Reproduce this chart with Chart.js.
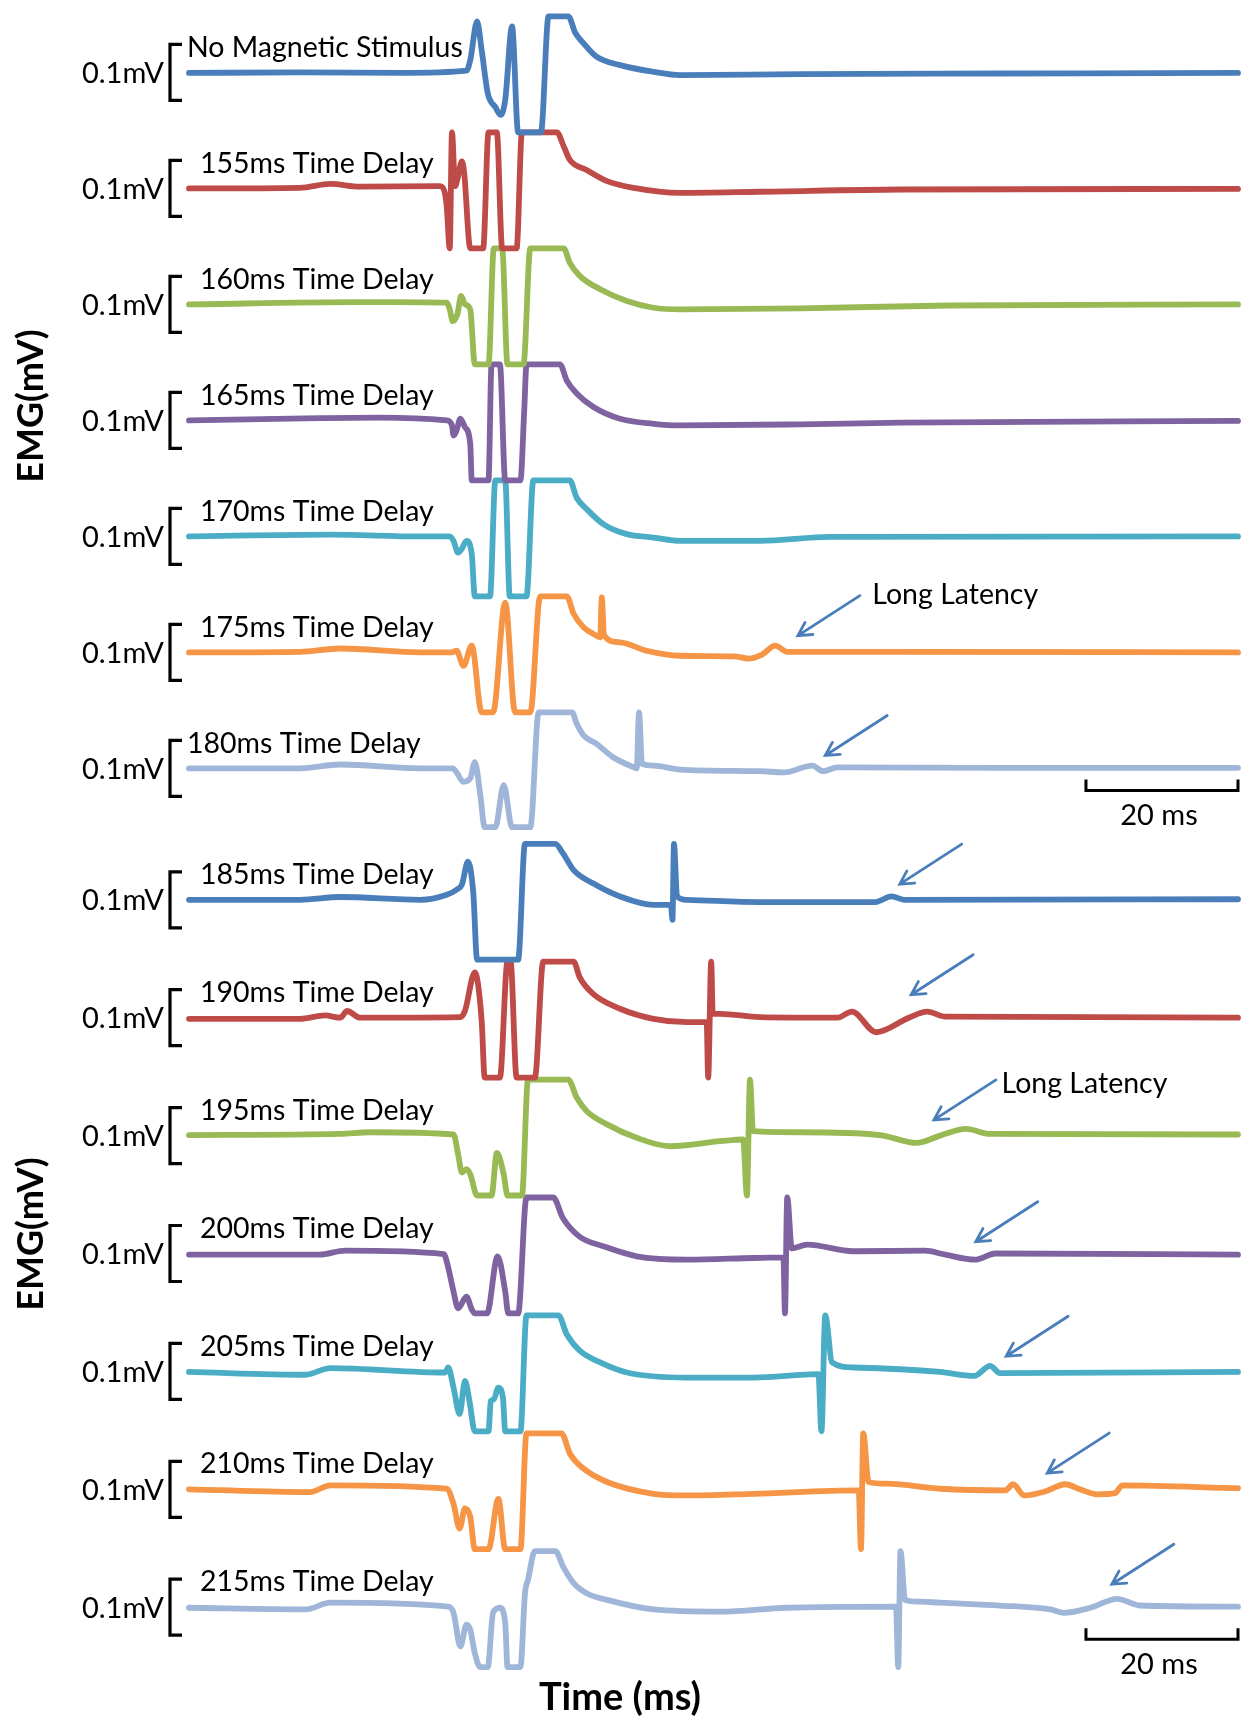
<!DOCTYPE html>
<html>
<head>
<meta charset="utf-8">
<script src="https://cdn.jsdelivr.net/npm/chart.js@4.4.1/dist/chart.umd.min.js"></script>
<style>
  html, body { margin: 0; padding: 0; background: #ffffff; }
  #wrap { position: relative; width: 1241px; height: 1721px; }
  canvas { display: block; }
</style>
</head>
<body>
<div id="wrap"><canvas id="emg" width="1241" height="1721"></canvas></div>
<script>
// ---- trace names (top to bottom) ----
const traceNames = [
  'No Magnetic Stimulus', '155ms Time Delay', '160ms Time Delay', '165ms Time Delay',
  '170ms Time Delay', '175ms Time Delay', '180ms Time Delay',
  '185ms Time Delay', '190ms Time Delay', '195ms Time Delay', '200ms Time Delay',
  '205ms Time Delay', '210ms Time Delay', '215ms Time Delay'
];

// ---- recorded EMG: time (ms) and amplitude (mV) per trace ----
const ms_none = [0, 14.6, 27.8, 36.5, 37.0, 37.9, 38.5, 39.3, 40.3, 41.0, 41.6, 42.5, 43.3, 46.3, 47.3, 49.9, 50.8, 51.9, 53.6, 56.7, 61.1, 64.6, 80.4, 106.7, 138];
const mv_none = [-0.001, 0.000, -0.001, 0.003, 0.022, 0.091, 0.040, -0.037, -0.062, -0.076, -0.049, 0.082, -0.107, -0.107, 0.100, 0.100, 0.071, 0.052, 0.028, 0.013, 0.001, -0.005, -0.003, -0.002, -0.001];

const ms_155 = [0, 14.6, 18.6, 22.5, 33.0, 33.6, 33.9, 34.3, 34.6, 35.0, 35.3, 35.9, 36.2, 37.0, 38.7, 39.4, 40.5, 41.2, 43.1, 43.8, 48.4, 49.3, 50.1, 52.3, 55.0, 58.5, 64.6, 75.1, 93.6, 138];
const mv_155 = [0.000, 0.001, 0.008, 0.003, 0.004, -0.005, -0.032, -0.107, 0.100, 0.004, 0.016, 0.048, 0.028, -0.107, -0.107, 0.100, 0.100, -0.107, -0.107, 0.100, 0.100, 0.075, 0.051, 0.033, 0.013, 0.001, -0.008, -0.006, -0.002, -0.001];

const ms_160 = [0, 22.1, 26.8, 33.9, 34.3, 34.7, 35.3, 35.8, 36.3, 37.0, 37.6, 39.4, 40.1, 41.2, 41.9, 44.0, 44.9, 49.3, 50.1, 51.4, 54.1, 57.6, 61.1, 64.6, 80.4, 100.1, 138];
const mv_160 = [0, 0.004, 0.004, 0.003, -0.009, -0.030, -0.018, 0.015, 0, -0.009, -0.107, -0.107, 0.100, 0.100, -0.107, -0.107, 0.100, 0.100, 0.074, 0.051, 0.027, 0.006, -0.006, -0.009, -0.007, -0.002, 0];

const ms_165 = [0, 17.2, 25.1, 33.9, 34.6, 34.8, 35.2, 35.7, 36.3, 37.0, 37.2, 39.4, 39.8, 40.9, 41.6, 43.6, 44.1, 44.4, 48.8, 49.7, 51.0, 53.2, 56.7, 61.1, 64.6, 80.4, 93.6, 138];
const mv_165 = [0, 0.004, 0.005, 0, -0.009, -0.027, -0.018, 0.003, -0.012, -0.042, -0.107, -0.107, 0.100, 0.100, -0.107, -0.107, 0.018, 0.100, 0.100, 0.071, 0.048, 0.024, 0.003, -0.006, -0.009, -0.007, -0.004, -0.001];

const ms_170 = [0, 18.6, 30.4, 34.3, 34.8, 35.4, 35.9, 36.5, 37.2, 37.6, 39.6, 40.3, 41.6, 42.2, 44.4, 45.3, 50.1, 51.0, 52.3, 54.5, 57.6, 61.1, 64.6, 75.1, 84.3, 138];
const mv_170 = [0, 0.003, 0, 0, -0.008, -0.029, -0.022, -0.008, -0.032, -0.107, -0.107, 0.100, 0.100, -0.107, -0.107, 0.100, 0.100, 0.069, 0.049, 0.022, 0.004, -0.002, -0.008, -0.008, -0.001, 0];

const ms_175 = [0, 14.6, 19.9, 30.4, 34.6, 35.2, 36.1, 37.2, 38.5, 40.0, 41.6, 42.9, 44.9, 46.2, 49.7, 50.6, 51.9, 53.6, 54.1, 54.3, 54.6, 56.7, 60.2, 64.6, 71.7, 73.6, 75.4, 77.1, 78.7, 93.6, 138];
const mv_175 = [0, 0.001, 0.007, 0, 0, 0.003, -0.024, 0.012, -0.107, -0.107, 0.089, -0.107, -0.107, 0.100, 0.100, 0.069, 0.045, 0.030, 0.027, 0.098, 0.030, 0.018, 0.003, -0.006, -0.007, -0.011, -0.004, 0.012, 0.001, 0.001, 0];

const ms_180 = [0, 14.6, 19.9, 30.4, 34.7, 35.2, 36.1, 37.0, 37.6, 38.3, 38.9, 40.3, 41.4, 42.5, 44.9, 46.0, 50.4, 51.0, 51.9, 53.6, 55.8, 58.5, 58.9, 59.2, 59.6, 61.1, 64.6, 75.1, 78.3, 82.0, 83.4, 85.3, 106.7, 138];
const mv_180 = [0, 0, 0.007, 0, 0, -0.007, -0.024, -0.018, 0.011, -0.045, -0.105, -0.105, -0.030, -0.105, -0.105, 0.100, 0.100, 0.080, 0.059, 0.044, 0.020, 0.002, 0, 0.100, 0.008, 0.005, -0.002, -0.005, -0.007, 0.005, -0.005, 0.002, 0.001, 0.001];

const ms_185 = [0, 14.6, 19.9, 30.4, 33.9, 35.2, 35.9, 36.7, 37.4, 37.9, 43.3, 44.2, 48.2, 49.2, 50.6, 53.2, 56.7, 61.1, 63.4, 63.6, 63.8, 64.2, 65.5, 75.1, 90.3, 92.4, 94.2, 138];
const mv_185 = [0, 0, 0.005, 0, 0.009, 0.018, 0.027, 0.068, 0.012, -0.107, -0.107, 0.100, 0.100, 0.083, 0.053, 0.029, 0.006, -0.009, -0.009, -0.036, 0.100, 0.006, 0, -0.004, -0.004, 0.006, 0, 0.001];

const ms_190 = [0, 14.6, 17.9, 19.9, 20.8, 22.5, 35.7, 36.3, 37.6, 38.5, 38.9, 40.9, 41.9, 42.3, 43.1, 45.5, 46.6, 50.6, 51.4, 53.2, 56.7, 61.1, 65.5, 68.1, 68.3, 68.7, 68.9, 69.9, 75.1, 85.3, 87.2, 90.4, 94.7, 97.1, 99.5, 138];
const mv_190 = [-0.002, -0.002, 0.004, 0, 0.012, 0, 0.001, 0.012, 0.081, -0.005, -0.107, -0.107, 0.100, 0.100, -0.107, -0.107, 0.100, 0.100, 0.072, 0.042, 0.016, -0.002, -0.008, -0.008, -0.107, 0.100, 0.007, 0.007, 0.001, 0, 0.011, -0.026, 0, 0.011, 0.002, 0];

const ms_195 = [0, 19.9, 23.8, 34.8, 35.4, 35.9, 36.5, 37.0, 37.9, 39.8, 40.5, 41.4, 41.9, 43.8, 44.6, 49.9, 51.0, 52.3, 55.0, 58.9, 63.3, 69.9, 72.9, 73.4, 73.8, 74.2, 80.4, 90.9, 95.7, 98.8, 102.2, 105.4, 138];
const mv_195 = [0.001, 0.003, 0.006, 0.002, -0.033, -0.066, -0.060, -0.069, -0.107, -0.107, -0.031, -0.069, -0.107, -0.107, 0.100, 0.100, 0.068, 0.044, 0.020, -0.004, -0.019, -0.010, -0.007, -0.107, 0.100, 0.008, 0.006, 0.001, -0.013, 0, 0.012, 0.003, 0.002];

const ms_200 = [0, 17.2, 20.5, 33.5, 33.9, 34.8, 35.4, 36.5, 37.2, 37.6, 39.2, 40.6, 41.6, 42.0, 43.3, 44.4, 47.9, 49.2, 51.4, 54.5, 58.9, 65.5, 74.3, 78.2, 78.4, 78.7, 79.3, 81.3, 87.4, 96.8, 99.5, 103.4, 106.1, 138];
const mv_200 = [-0.002, -0.002, 0.005, -0.001, -0.014, -0.068, -0.098, -0.077, -0.100, -0.107, -0.107, -0.005, -0.068, -0.107, -0.107, 0.100, 0.100, 0.063, 0.030, 0.013, -0.005, -0.011, -0.008, -0.007, -0.107, 0.100, 0.009, 0.016, 0.004, 0.005, -0.002, -0.011, 0, -0.002];

const ms_205 = [0, 15.3, 18.6, 33.7, 34.1, 34.8, 35.6, 36.3, 36.9, 37.6, 39.4, 39.7, 40.1, 40.7, 41.3, 41.6, 43.6, 44.4, 48.6, 49.7, 51.4, 54.1, 57.6, 65.5, 74.3, 82.8, 83.2, 83.7, 84.6, 87.4, 98.8, 103.3, 105.4, 106.7, 138];
const mv_205 = [-0.001, -0.006, 0.006, -0.002, 0.007, -0.029, -0.076, -0.017, -0.053, -0.107, -0.107, -0.053, -0.050, -0.029, -0.047, -0.107, -0.107, 0.100, 0.100, 0.066, 0.037, 0.016, -0.002, -0.011, -0.011, -0.005, -0.107, 0.100, 0.016, 0.007, -0.001, -0.008, 0.010, -0.003, -0.001];

const ms_210 = [0, 15.9, 18.6, 33.9, 34.8, 35.6, 36.3, 37.0, 37.6, 39.4, 40.7, 41.6, 43.6, 44.4, 49.0, 50.1, 51.9, 55.0, 61.1, 65.5, 74.3, 88.1, 88.4, 88.7, 89.4, 91.8, 98.8, 107.4, 108.4, 109.9, 112.6, 115.3, 117.2, 119.5, 121.8, 122.8, 138];
const mv_210 = [0, -0.005, 0.007, 0.001, -0.026, -0.070, -0.034, -0.049, -0.107, -0.107, -0.017, -0.107, -0.107, 0.100, 0.100, 0.064, 0.037, 0.013, -0.008, -0.011, -0.008, -0.002, -0.107, 0.100, 0.013, 0.010, 0.001, -0.002, 0.009, -0.011, -0.004, 0.009, 0, -0.009, -0.007, 0.007, 0.002];

const ms_215 = [0, 15.3, 18.6, 34.1, 34.8, 35.7, 36.5, 37.0, 37.6, 38.3, 39.3, 40.0, 40.9, 41.6, 41.9, 43.6, 44.2, 44.6, 45.5, 48.2, 49.2, 50.6, 52.3, 55.0, 61.1, 69.9, 78.6, 93.0, 93.3, 93.6, 94.2, 96.2, 98.8, 106.7, 113.3, 115.1, 118.6, 122.1, 125.1, 138];
const mv_215 = [-0.001, -0.004, 0.008, 0.001, -0.010, -0.070, -0.031, -0.040, -0.082, -0.107, -0.107, -0.010, -0.001, -0.028, -0.107, -0.107, 0.025, 0.049, 0.100, 0.100, 0.073, 0.043, 0.025, 0.013, -0.004, -0.008, -0.001, 0.001, -0.107, 0.100, 0.013, 0.010, 0.008, 0.003, -0.004, -0.010, -0.001, 0.015, 0.003, 0.001];

const traceTimes = [ms_none, ms_155, ms_160, ms_165, ms_170, ms_175, ms_180, ms_185, ms_190, ms_195, ms_200, ms_205, ms_210, ms_215];
const traceValues = [mv_none, mv_155, mv_160, mv_165, mv_170, mv_175, mv_180, mv_185, mv_190, mv_195, mv_200, mv_205, mv_210, mv_215];

// ---- long-latency responses pointed out by arrows: trace index, time (ms), level (mV) ----
const latencyTrace = [5, 6, 7, 8, 9, 10, 11, 12, 13];
const latencyTime  = [80.1, 83.7, 93.5, 95.0, 98.0, 103.5, 107.5, 112.9, 121.4];
const latencyLevel = [0.030, 0.023, 0.028, 0.041, 0.028, 0.021, 0.027, 0.029, 0.041];

// ---- reference values ----
const calibrationMv = 0.1;   // vertical bracket
const scaleBarMs = 20;       // horizontal bar
const timeSpanMs = 138;

// ---- layout ----
const W = 1241, H = 1721;
const PX_PER_MV = 560;
const FIRST_BASE_PX = 72.4;
function baselinePx(i) {
  // two stacked panels of seven traces each
  return i < 7 ? i * 116 : 827.4 + (i - 7) * 117.9;
}
const traceOffset = traceNames.map((_, i) => -baselinePx(i) / PX_PER_MV);
const Y_MAX = FIRST_BASE_PX / PX_PER_MV;
const Y_MIN = Y_MAX - H / PX_PER_MV;

const palette = ['#4A7EBB', '#BE4B48', '#98B954', '#7E63A0', '#4BACC6', '#F59545', '#9FB6D9'];
const FONT = 'Lato, "Open Sans", sans-serif';

const datasets = traceNames.map((name, i) => ({
  label: name,
  data: traceTimes[i].map((t, k) => ({ x: t, y: traceValues[i][k] + traceOffset[i] })),
  borderColor: palette[i % 7],
  borderWidth: 5.8,
  borderJoinStyle: 'round',
  borderCapStyle: 'round',
  cubicInterpolationMode: 'monotone',
  pointRadius: 0,
  fill: false,
  clip: false
}));

// annotations: trace labels, calibration brackets, arrows, scale bars, axis titles
const annotations = {
  id: 'emgAnnotations',
  afterDatasetsDraw(chart) {
    const ctx = chart.ctx;
    const xs = chart.scales.x, ys = chart.scales.y;
    const px = t => xs.getPixelForValue(t);
    const py = (i, v) => ys.getPixelForValue(traceOffset[i] + v);

    ctx.save();
    ctx.fillStyle = '#000';
    ctx.strokeStyle = '#000';

    traceNames.forEach((name, i) => {
      const base = py(i, 0);
      // trace name
      ctx.font = '28.5px ' + FONT;
      ctx.textAlign = 'left';
      ctx.textBaseline = 'middle';
      const lx = (i === 0 || i === 6) ? 187 : 200;
      ctx.fillText(name, lx, base - 25);
      // 0.1 mV calibration bracket
      const top = py(i, calibrationMv / 2), bot = py(i, -calibrationMv / 2);
      ctx.lineWidth = 3.2;
      ctx.lineCap = 'butt';
      ctx.lineJoin = 'miter';
      ctx.beginPath();
      ctx.moveTo(182, top);
      ctx.lineTo(170, top);
      ctx.lineTo(170, bot);
      ctx.lineTo(182, bot);
      ctx.stroke();
      ctx.font = '29px ' + FONT;
      ctx.textAlign = 'right';
      ctx.fillText('0.1mV', 164, base + 1);
    });

    // arrows toward the long-latency responses
    ctx.strokeStyle = '#4A7EBB';
    ctx.lineWidth = 2.8;
    ctx.lineCap = 'round';
    latencyTrace.forEach((tr, k) => {
      const hx = px(latencyTime[k]), hy = py(tr, latencyLevel[k]);
      const tx = hx + 62, ty = hy - 40;
      const ang = Math.atan2(ty - hy, tx - hx);
      const len = 15, spread = 0.5;
      ctx.beginPath();
      ctx.moveTo(tx, ty);
      ctx.lineTo(hx, hy);
      ctx.moveTo(hx + len * Math.cos(ang + spread), hy + len * Math.sin(ang + spread));
      ctx.lineTo(hx, hy);
      ctx.lineTo(hx + len * Math.cos(ang - spread), hy + len * Math.sin(ang - spread));
      ctx.stroke();
    });

    ctx.fillStyle = '#000';
    ctx.font = '28.5px ' + FONT;
    ctx.textAlign = 'left';
    ctx.textBaseline = 'middle';
    ctx.fillText('Long Latency', px(89.9), py(5, 0.102));
    ctx.fillText('Long Latency', px(106.9), py(9, 0.092));

    // 20 ms scale bars, one per panel
    ctx.strokeStyle = '#000';
    ctx.lineWidth = 3;
    ctx.lineCap = 'butt';
    ctx.font = '29px ' + FONT;
    [[6, 22], [13, 32]].forEach(([tr, drop]) => {
      const x0 = px(timeSpanMs - scaleBarMs), x1 = px(timeSpanMs);
      const y = py(tr, 0) + drop;
      ctx.beginPath();
      ctx.moveTo(x0, y - 11);
      ctx.lineTo(x0, y);
      ctx.lineTo(x1, y);
      ctx.lineTo(x1, y - 11);
      ctx.stroke();
      ctx.textAlign = 'center';
      ctx.fillText(scaleBarMs + ' ms', (x0 + x1) / 2 - 3, y + 25);
    });

    // axis titles
    ctx.font = 'bold 36px ' + FONT;
    ctx.textAlign = 'center';
    ctx.textBaseline = 'middle';
    [406, 1234].forEach(cy => {
      ctx.save();
      ctx.translate(31, cy);
      ctx.rotate(-Math.PI / 2);
      ctx.fillText('EMG(mV)', 0, 0);
      ctx.restore();
    });
    ctx.font = 'bold 38px ' + FONT;
    ctx.fillText('Time (ms)', 620, 1698);

    ctx.restore();
  }
};

new Chart(document.getElementById('emg'), {
  type: 'line',
  data: { datasets },
  options: {
    responsive: false,
    animation: false,
    devicePixelRatio: 1,
    layout: { padding: { left: 189, right: 3, top: 0, bottom: 0 } },
    plugins: { legend: { display: false }, tooltip: { enabled: false }, title: { display: false } },
    scales: {
      x: { type: 'linear', min: 0, max: timeSpanMs, display: false },
      y: { type: 'linear', min: Y_MIN, max: Y_MAX, display: false }
    }
  },
  plugins: [annotations]
});
</script>
</body>
</html>
